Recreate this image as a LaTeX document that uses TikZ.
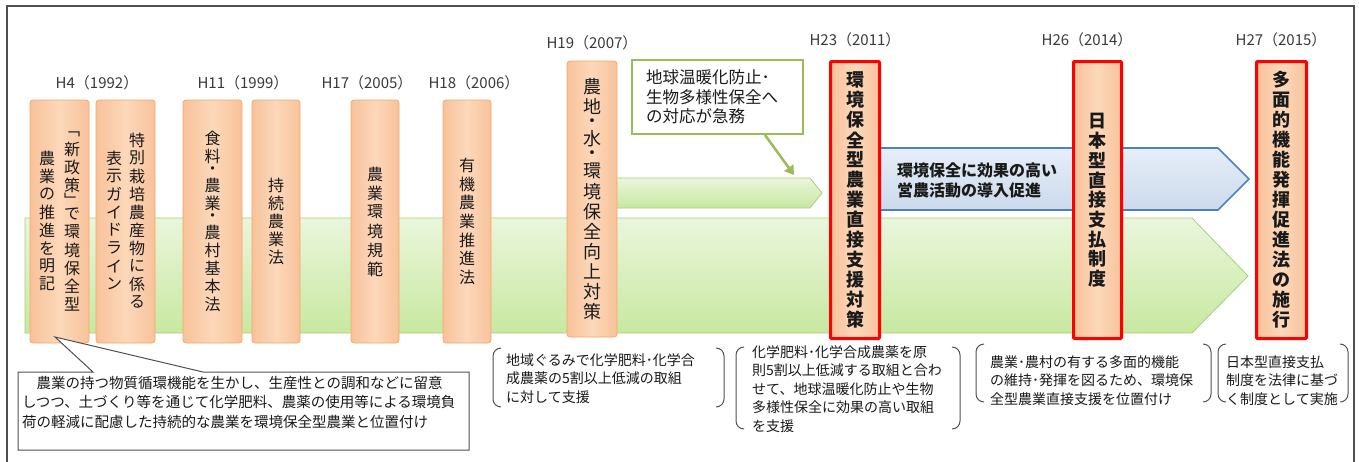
\documentclass[tikz,border=0pt]{standalone}
\usepackage{fontspec}
\setmainfont{Noto Sans CJK JP}
\usetikzlibrary{arrows.meta}
\definecolor{obL}{HTML}{F8C29A}
\definecolor{obM}{HTML}{FCD8BA}
\definecolor{obD}{HTML}{F4A86A}
\definecolor{grT}{HTML}{EAF6DC}
\definecolor{grB}{HTML}{C8E8A0}
\definecolor{grD}{HTML}{A6CF78}
\definecolor{gbcol}{HTML}{9BBB59}
\definecolor{blT}{HTML}{E6EEF8}
\definecolor{blB}{HTML}{CCDAEC}
\definecolor{blD}{HTML}{4F81BD}
\definecolor{txt}{HTML}{1A1A1A}
\definecolor{yrcol}{HTML}{3A3A3A}
\definecolor{brkcol}{HTML}{505050}

\ExplSyntaxOn
\dim_new:N \l__tate_pitch_dim
\dim_new:N \l__tate_w_dim
\cs_new_protected:Npn \__tate_box:nn #1#2
  { \hbox_to_wd:nn { \l__tate_w_dim } { \hss \vbox_to_ht:nn {#1} { \vss \hbox:n {#2} \vss } \hss } }
\NewDocumentCommand \tate { O{18pt} m }
  {
    \dim_set:Nn \l__tate_pitch_dim {#1}
    \dim_set:Nn \l__tate_w_dim {1.1em}
    \vtop
      {
        \offinterlineskip
        \tl_map_inline:nn {#2}
          {
            \str_case:nnF {##1}
              {
                {・} { \__tate_box:nn { 0.62\l__tate_pitch_dim } {##1} }
                {﹁} { \__tate_box:nn { 0.62\l__tate_pitch_dim } {##1} }
                {﹂} { \__tate_box:nn { 0.62\l__tate_pitch_dim } {##1} }
              }
              { \__tate_box:nn { \l__tate_pitch_dim } {##1} }
          }
      }
  }
\ExplSyntaxOff

\tikzset{
  frame/.style={draw=brkcol, line width=1.4},
  garrow/.style={draw=grD, line width=0.8, top color=grT, bottom color=grB},
  barrow/.style={draw=blD, line width=1.6, top color=blT, bottom color=blB},
  obox/.style={draw=obD, line width=0.8, rounded corners=3, left color=obL, right color=obL, middle color=obM, inner sep=0, text=txt},
  rbox/.style={obox, draw=red, line width=3, rounded corners=1},
  vt/.style={inner sep=0, text=txt, font=\fontsize{16}{18}\selectfont},
  vfont/.style={font=\fontsize{16}{18}\selectfont},
  vfontb/.style={font=\fontsize{18}{20}\selectfont\bfseries},
  year/.style={inner sep=0, text=yrcol, font=\fontsize{15}{16}\selectfont},
  warnbox/.style={draw=gbcol, line width=2.5, fill=white, inner xsep=14, inner ysep=0, align=left, text=txt, font=\fontsize{16.5}{19.5}\selectfont},
  note/.style={inner sep=0, anchor=north west, align=left, text=txt, font=\fontsize{14}{18.5}\selectfont},
  brk/.style={draw=brkcol, line width=1},
  callout/.style={draw=brkcol, line width=1, fill=white},
  warnarrow/.style={draw=gbcol, line width=2.5, -{Triangle[length=9,width=11]}},
}
\newcommand\brkpair[4]{%
  \draw[brk] (#1+8,#3) to[out=180,in=90] (#1,#3+8) -- (#1,#4-8) to[out=-90,in=180] (#1+8,#4);
  \draw[brk] (#2-8,#3) to[out=0,in=90] (#2,#3+8) -- (#2,#4-8) to[out=-90,in=0] (#2-8,#4);}

\begin{document}
\begin{tikzpicture}[x=1pt,y=-1pt]
\useasboundingbox (0,0) rectangle (1359,461);
\fill[white] (0,0) rectangle (1359,461);
\draw[frame] (7,6) rectangle (1354,475);

% arrows (bands)
\draw[garrow] (25,218) -- (1192,218) -- (1248,276) -- (1192,333) -- (25,333) -- cycle;
\draw[garrow] (600,178) -- (810,178) -- (822,193) -- (810,208) -- (600,208) -- cycle;
\draw[barrow] (860,148) -- (1218,148) -- (1249,179) -- (1218,210) -- (860,210) -- cycle;
\node[inner sep=0, anchor=west, align=left, text=txt, font=\fontsize{16}{20}\selectfont\bfseries] (btxt) at (897,180) {環境保全に効果の高い\\営農活動の導入促進};

% year labels
\node[year] (y1) at (97,83) {H4（1992）};
\node[year] (y2) at (243,83) {H11（1999）};
\node[year] (y3) at (367,83) {H17（2005）};
\node[year] (y4) at (474,83) {H18（2006）};
\node[year] (y5) at (592,43) {H19（2007）};
\node[year] (y6) at (855,40) {H23（2011）};
\node[year] (y7) at (1087,40) {H26（2014）};
\node[year] (y8) at (1281,40) {H27（2015）};

% orange boxes
\node[obox, minimum width=59, minimum height=243] (b1) at (59.5,221.5) {};
\node[vt] (b1r) at (72,221) {\tate{﹁新政策﹂で環境保全型}};
\node[vt] (b1l) at (47,221) {\tate{農業の推進を明記}};
\node[obox, minimum width=59, minimum height=243] (b2) at (125.5,221.5) {};
\node[vt] (b2r) at (137,221) {\tate{特別栽培農産物に係る}};
\node[vt] (b2l) at (114,221) {\tate{表示ガイドライン}};
\node[obox, vfont, minimum width=59, minimum height=243] (b3) at (212.5,221.5) {\tate{食料・農業・農村基本法}};
\node[obox, vfont, minimum width=48, minimum height=243] (b4) at (276,221.5) {\tate{持続農業法}};
\node[obox, vfont, minimum width=48, minimum height=243] (b5) at (375,221.5) {\tate[19pt]{農業環境規範}};
\node[obox, vfont, minimum width=48, minimum height=243] (b6) at (467,221.5) {\tate[18.6pt]{有機農業推進法}};
\node[obox, minimum width=50, minimum height=276, font=\fontsize{18}{20}\selectfont] (b7) at (592,199) {\tate[20pt]{農地・水・環境保全向上対策}};

% red boxes
\node[rbox, vfontb, minimum width=49, minimum height=277] (r1) at (855,200) {\tate[20pt]{環境保全型農業直接支援対策}};
\node[rbox, vfontb, minimum width=48, minimum height=277] (r2) at (1097.5,200) {\tate[19.7pt]{日本型直接支払制度}};
\node[rbox, vfontb, minimum width=50, minimum height=277] (r3) at (1281.5,200) {\tate[20pt]{多面的機能発揮促進法の施行}};

% warning box
\node[warnbox, minimum height=74, text width=143] (warn) at (717.5,97) {地球温暖化防止･\\生物多様性保全へ\\の対応が急務};
\coordinate (wfrom) at (765,135);
\coordinate (wtip) at (794,175);
\draw[warnarrow] (wfrom) -- (wtip);

% bottom callout
\coordinate (ptip) at (55,337);
\draw[callout] (18,372) -- (93,372) -- (ptip) -- (203,372) -- (469,372) -- (469,450) -- (18,450) -- cycle;
\node[note, font=\fontsize{14.5}{19.5}\selectfont] (n0) at (22,376) {　農業の持つ物質循環機能を生かし、生産性との調和などに留意\\しつつ、土づくり等を通じて化学肥料、農薬の使用等による環境負\\荷の軽減に配慮した持続的な農業を環境保全型農業と位置付け};

% bracket notes
\brkpair{493}{724}{348}{407}
\node[note] (n1) at (506,353) {地域ぐるみで化学肥料･化学合\\成農薬の5割以上低減の取組\\に対して支援};
\brkpair{736}{960}{347}{429}
\node[note] (n2) at (752,345) {化学肥料･化学合成農薬を原\\則5割以上低減する取組と合わ\\せて、地球温暖化防止や生物\\多様性保全に効果の高い取組\\を支援};
\brkpair{976}{1211}{344}{402}
\node[note] (n3) at (990,355) {農業･農村の有する多面的機能\\の維持･発揮を図るため、環境保\\全型農業直接支援を位置付け};
\brkpair{1218}{1348}{344}{402}
\node[note] (n4) at (1226,355) {日本型直接支払\\制度を法律に基づ\\く制度として実施};
\end{tikzpicture}
\end{document}
